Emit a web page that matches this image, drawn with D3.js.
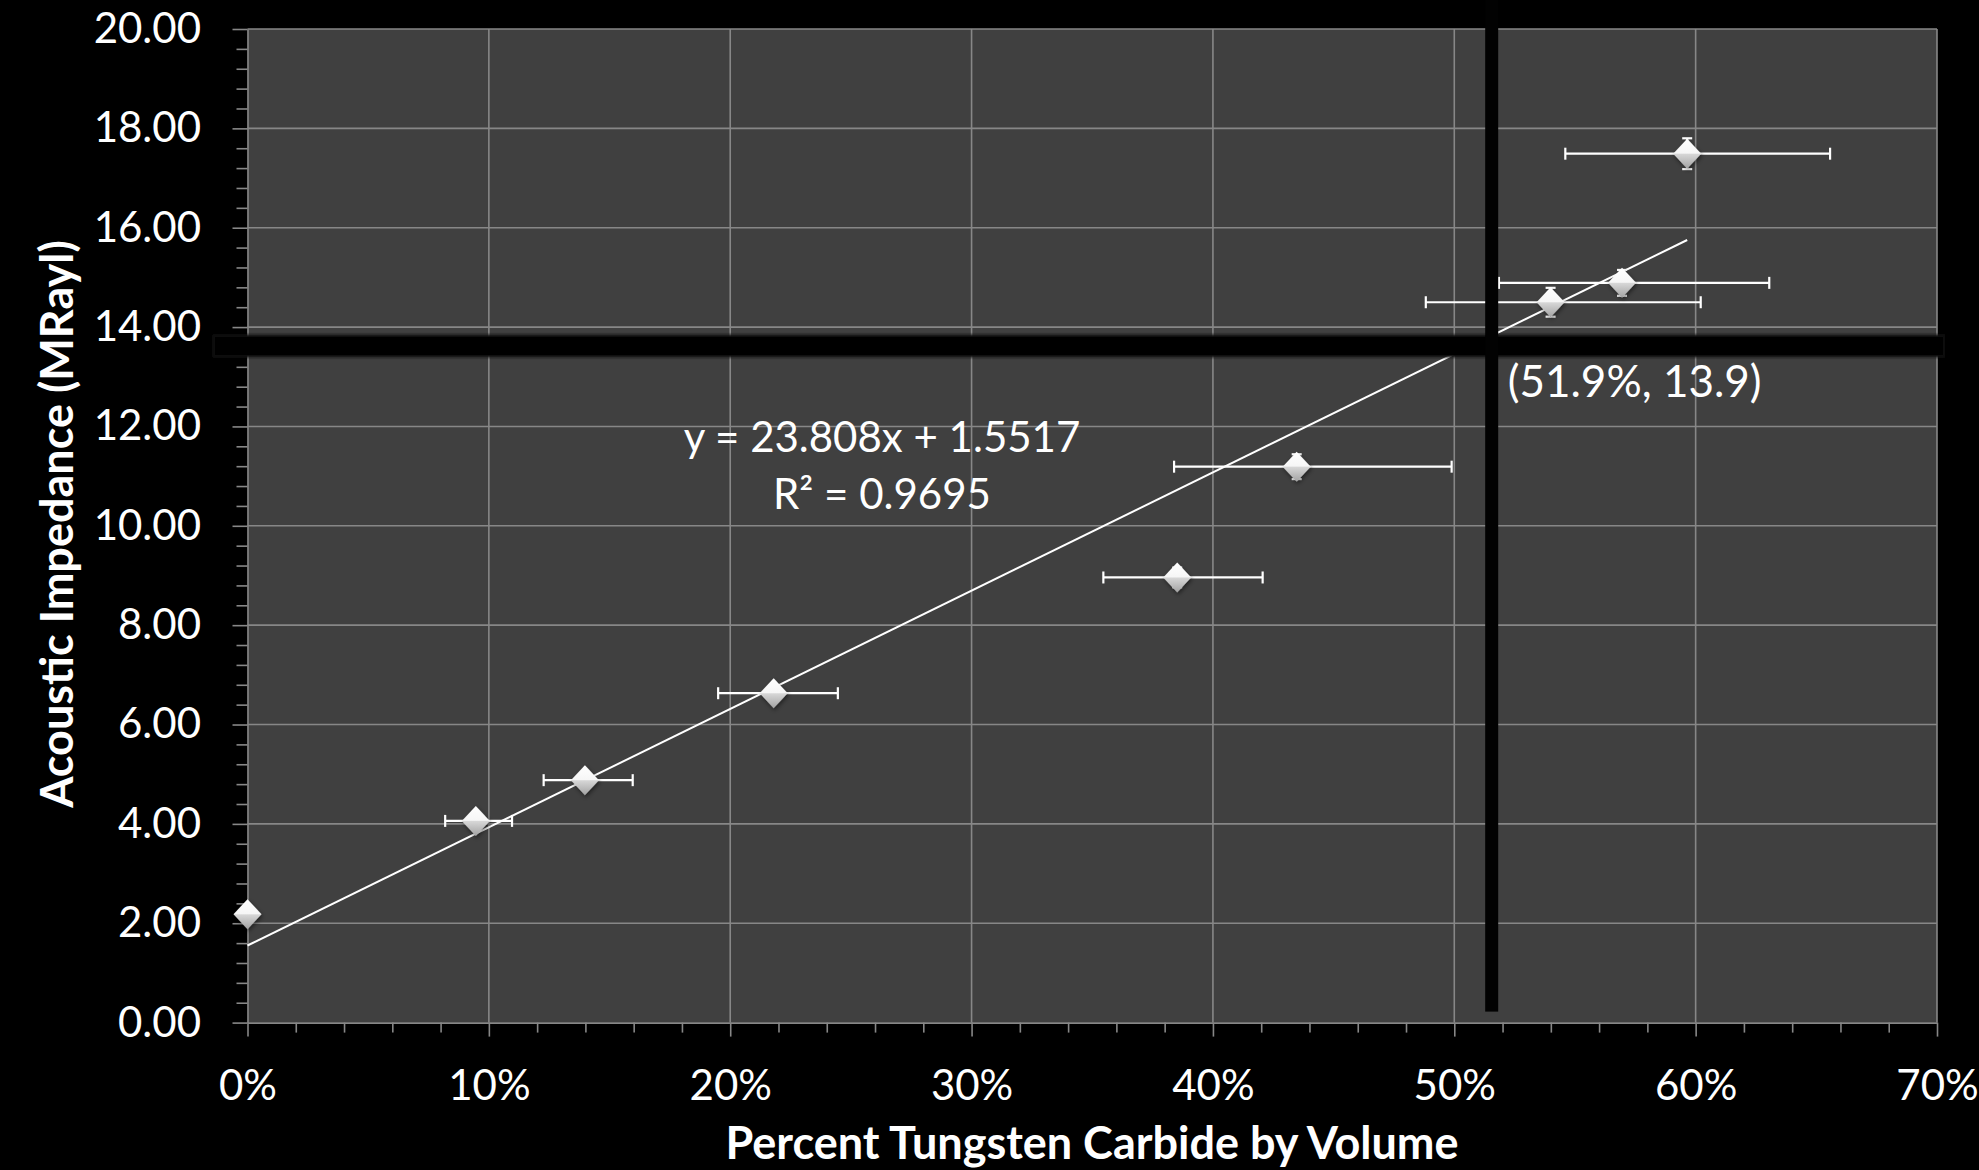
<!DOCTYPE html>
<html>
<head>
<meta charset="utf-8">
<script src="https://cdn.jsdelivr.net/npm/d3@7"></script>
<style>
  body { margin: 0; background: #000; }
  svg { display: block; }
</style>
</head>
<body>
<div id="chart"></div>
<script>
/* Acoustic impedance vs tungsten carbide fraction, with linear fit */

// fraction of WC by volume
const wcFraction = [0, 0.0946, 0.1398, 0.218, 0.3852, 0.4347, 0.5399, 0.5695, 0.5965];
// acoustic impedance, MRayl
const impedance = [2.18, 4.06, 4.88, 6.63, 8.96, 11.19, 14.50, 14.89, 17.49];
// error bars (custom minus / plus in x, symmetric in y)
const xErrMinus = [0, 0.0127, 0.0171, 0.023, 0.0306, 0.0508, 0.0517, 0.051, 0.0505];
const xErrPlus = [0, 0.015, 0.0198, 0.0266, 0.0354, 0.0642, 0.0622, 0.061, 0.0592];
const yErr = [0, 0.12, 0.12, 0.15, 0.2, 0.25, 0.29, 0.26, 0.31];

// trend line
const slope = 23.808, intercept = 1.5517;
const fitLabels = ["y = 23.808x + 1.5517", "R² = 0.9695"];

// axis ticks
const xTicks = [0, 0.1, 0.2, 0.3, 0.4, 0.5, 0.6, 0.7];
const yTicks = [0, 2, 4, 6, 8, 10, 12, 14, 16, 18, 20];

// hand-drawn crosshair and its label
const crossX = [0.5155];
const crossY = [13.62];
const crossLabel = ["(51.9%, 13.9)"];

const width = 1979,
      height = 1170,
      margin = ({ top: 29, right: 42, bottom: 147.4, left: 247.5 });

const gridColor = "#878787";

let data = wcFraction.map((d, i) => ({
    x: d, y: impedance[i],
    xm: xErrMinus[i], xp: xErrPlus[i], ye: yErr[i]
}));

let svg = d3.select("#chart")
    .append("svg")
    .attr("width", width)
    .attr("height", height)
    .style("background", "#000");

let x = d3.scaleLinear()
    .domain([0, 0.7])
    .range([margin.left, width - margin.right]);

let y = d3.scaleLinear()
    .domain([0, 20])
    .range([height - margin.bottom, margin.top]);

let defs = svg.append("defs");

let grad = defs.append("linearGradient")
    .attr("id", "diamondFill")
    .attr("x1", 0).attr("y1", 0).attr("x2", 0).attr("y2", 1);
grad.append("stop").attr("offset", "0%").attr("stop-color", "#ffffff");
grad.append("stop").attr("offset", "48%").attr("stop-color", "#f6f6f6");
grad.append("stop").attr("offset", "52%").attr("stop-color", "#d6d6d6");
grad.append("stop").attr("offset", "100%").attr("stop-color", "#a2a2a2");

let shadow = defs.append("filter")
    .attr("id", "shadow")
    .attr("x", "-50%").attr("y", "-50%").attr("width", "200%").attr("height", "200%");
shadow.append("feDropShadow")
    .attr("dx", 1).attr("dy", 2).attr("stdDeviation", 2)
    .attr("flood-color", "#000").attr("flood-opacity", 0.5);

let blur = defs.append("filter")
    .attr("id", "soft")
    .attr("x", "-5%").attr("y", "-50%").attr("width", "110%").attr("height", "200%");
blur.append("feGaussianBlur").attr("stdDeviation", 1.2);

// plot area
svg.append("rect")
    .attr("x", x(0))
    .attr("y", y(20))
    .attr("width", x(0.7) - x(0))
    .attr("height", y(0) - y(20))
    .attr("fill", "#404040");

// gridlines
svg.append("g")
    .selectAll("line")
    .data(xTicks.slice(1))
    .join("line")
    .attr("x1", d => x(d)).attr("x2", d => x(d))
    .attr("y1", y(0)).attr("y2", y(20))
    .attr("stroke", gridColor)
    .attr("stroke-width", 1.6);

svg.append("g")
    .selectAll("line")
    .data(yTicks.slice(1))
    .join("line")
    .attr("x1", x(0)).attr("x2", x(0.7))
    .attr("y1", d => y(d)).attr("y2", d => y(d))
    .attr("stroke", gridColor)
    .attr("stroke-width", 1.6);

// minor ticks
let yMinor = d3.range(0, 20.001, 0.4).filter(v => Math.abs(v / 2 - Math.round(v / 2)) > 0.01);
let xMinor = d3.range(0, 0.7001, 0.02).filter(v => Math.abs(v * 10 - Math.round(v * 10)) > 0.01);

svg.append("g")
    .attr("transform", `translate(${x(0)},0)`)
    .call(d3.axisLeft(y).tickValues(yMinor).tickSize(11).tickSizeOuter(0).tickFormat(""))
    .call(g => g.select(".domain").remove())
    .call(g => g.selectAll("line").attr("stroke", gridColor).attr("stroke-width", 1.6));

svg.append("g")
    .attr("transform", `translate(0,${y(0)})`)
    .call(d3.axisBottom(x).tickValues(xMinor).tickSize(10).tickSizeOuter(0).tickFormat(""))
    .call(g => g.select(".domain").remove())
    .call(g => g.selectAll("line").attr("stroke", gridColor).attr("stroke-width", 1.6));

// major axes
svg.append("g")
    .attr("transform", `translate(${x(0)},0)`)
    .call(d3.axisLeft(y).tickValues(yTicks).tickSize(15).tickSizeOuter(0)
        .tickPadding(31.5).tickFormat(d3.format(".2f")))
    .call(g => g.select(".domain").attr("stroke", gridColor).attr("stroke-width", 1.6))
    .call(g => g.selectAll("line").attr("stroke", gridColor).attr("stroke-width", 1.6))
    .call(g => g.selectAll("text")
        .attr("fill", "#fff")
        .style("font-family", "Lato, sans-serif")
        .style("font-size", "42px"));

svg.append("g")
    .attr("transform", `translate(0,${y(0)})`)
    .call(d3.axisBottom(x).tickValues(xTicks).tickSize(14).tickSizeOuter(0)
        .tickPadding(33.6).tickFormat(d3.format(".0%")))
    .call(g => g.select(".domain").attr("stroke", gridColor).attr("stroke-width", 1.6))
    .call(g => g.selectAll("line").attr("stroke", gridColor).attr("stroke-width", 1.6))
    .call(g => g.selectAll("text")
        .attr("fill", "#fff")
        .style("font-family", "Lato, sans-serif")
        .style("font-size", "42px"));

// axis titles
svg.append("text")
    .attr("transform", "translate(73,524) rotate(-90)")
    .attr("text-anchor", "middle")
    .attr("fill", "#fff")
    .style("font-family", "Lato, sans-serif")
    .style("font-weight", "bold")
    .style("font-size", "45px")
    .text("Acoustic Impedance (MRayl)");

svg.append("text")
    .attr("x", 1092)
    .attr("y", 1159)
    .attr("text-anchor", "middle")
    .attr("fill", "#fff")
    .style("font-family", "Lato, sans-serif")
    .style("font-weight", "bold")
    .style("font-size", "45px")
    .text("Percent Tungsten Carbide by Volume");

// trend line
let xMax = d3.max(wcFraction);
svg.append("line")
    .attr("x1", x(0)).attr("y1", y(intercept))
    .attr("x2", x(xMax)).attr("y2", y(slope * xMax + intercept))
    .attr("stroke", "#fff")
    .attr("stroke-width", 2);

// error bars
let err = svg.append("g")
    .attr("stroke", "#fff")
    .attr("stroke-width", 2.2);

let xe = data.filter(d => d.xm > 0);
err.selectAll(".xbar").data(xe).join("line")
    .attr("x1", d => x(d.x - d.xm)).attr("x2", d => x(d.x + d.xp))
    .attr("y1", d => y(d.y)).attr("y2", d => y(d.y));
err.selectAll(".xcapl").data(xe).join("line")
    .attr("x1", d => x(d.x - d.xm)).attr("x2", d => x(d.x - d.xm))
    .attr("y1", d => y(d.y) - 6).attr("y2", d => y(d.y) + 6);
err.selectAll(".xcapr").data(xe).join("line")
    .attr("x1", d => x(d.x + d.xp)).attr("x2", d => x(d.x + d.xp))
    .attr("y1", d => y(d.y) - 6).attr("y2", d => y(d.y) + 6);

let ye = data.filter(d => d.ye > 0);
err.selectAll(".ybar").data(ye).join("line")
    .attr("x1", d => x(d.x)).attr("x2", d => x(d.x))
    .attr("y1", d => y(d.y - d.ye)).attr("y2", d => y(d.y + d.ye));
err.selectAll(".ycap").data(ye.flatMap(d => [[d.x, d.y - d.ye], [d.x, d.y + d.ye]])).join("line")
    .attr("x1", d => x(d[0]) - 5).attr("x2", d => x(d[0]) + 5)
    .attr("y1", d => y(d[1])).attr("y2", d => y(d[1]));

// diamond markers
const mw = 14, mh = 15;
svg.append("g")
    .selectAll("path")
    .data(data)
    .join("path")
    .attr("d", `M0,${-mh}L${mw},0L0,${mh}L${-mw},0Z`)
    .attr("transform", d => `translate(${x(d.x)},${y(d.y)})`)
    .attr("fill", "url(#diamondFill)")
    .attr("filter", "url(#shadow)");

// fit equation
svg.append("g")
    .selectAll("text")
    .data(fitLabels)
    .join("text")
    .attr("x", 882)
    .attr("y", (d, i) => 452 + i * 57)
    .attr("text-anchor", "middle")
    .attr("fill", "#fff")
    .style("font-family", "Lato, sans-serif")
    .style("font-size", "42px")
    .text(d => d);

// crosshair drawn over the chart
svg.append("rect")
    .attr("x", x(0) - 34)
    .attr("y", y(crossY[0]) - 10.5)
    .attr("width", x(0.7) - x(0) + 41)
    .attr("height", 21)
    .attr("fill", "#020202")
    .attr("stroke", "#111")
    .attr("stroke-width", 2)
    .attr("filter", "url(#soft)");

svg.append("rect")
    .attr("x", x(crossX[0]) - 6.5)
    .attr("y", 0)
    .attr("width", 13)
    .attr("height", y(0) - 11)
    .attr("fill", "#020202");

svg.append("text")
    .attr("x", x(crossX[0]) + 16)
    .attr("y", 397)
    .attr("fill", "#fff")
    .style("font-family", "Lato, sans-serif")
    .style("font-size", "44px")
    .text(crossLabel[0]);
</script>
</body>
</html>
